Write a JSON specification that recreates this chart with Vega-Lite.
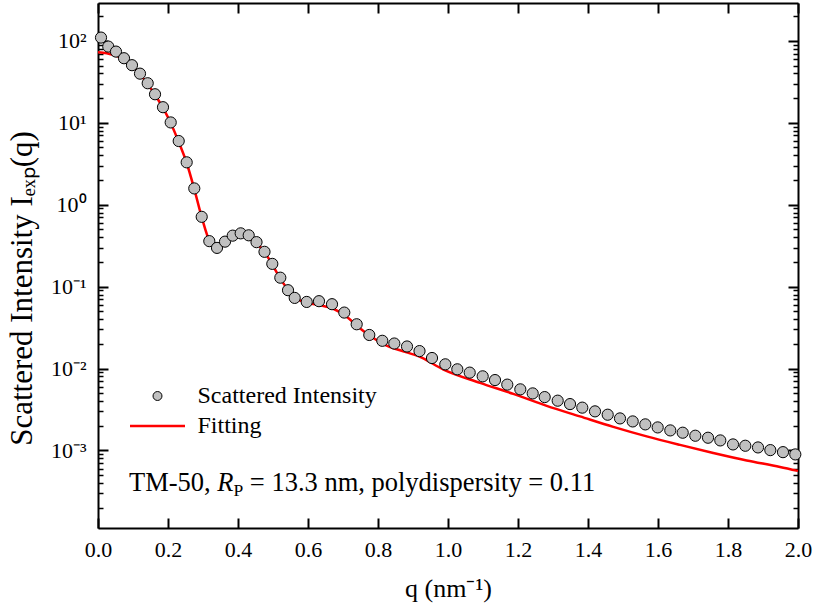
{
  "$schema": "https://vega.github.io/schema/vega-lite/v6.json",
  "width": 700,
  "height": 525,
  "autosize": {"type": "none"},
  "padding": {"left": 98, "top": 3, "right": 16, "bottom": 87},
  "background": "white",
  "config": {"view": {"stroke": null}, "font": "'Liberation Serif', 'Times New Roman', 'DejaVu Serif', serif", "axis": {"grid": false}},
  "datasets": {
    "points": [
      {"q": 0.0086, "I": 109.7, "series": "Scattered Intensity"},
      {"q": 0.0294, "I": 85.2, "series": "Scattered Intensity"},
      {"q": 0.0514, "I": 74.0, "series": "Scattered Intensity"},
      {"q": 0.0743, "I": 61.4, "series": "Scattered Intensity"},
      {"q": 0.0971, "I": 50.5, "series": "Scattered Intensity"},
      {"q": 0.12, "I": 39.8, "series": "Scattered Intensity"},
      {"q": 0.142, "I": 30.4, "series": "Scattered Intensity"},
      {"q": 0.1629, "I": 22.3, "series": "Scattered Intensity"},
      {"q": 0.1857, "I": 15.5, "series": "Scattered Intensity"},
      {"q": 0.2077, "I": 10.1, "series": "Scattered Intensity"},
      {"q": 0.2306, "I": 5.99, "series": "Scattered Intensity"},
      {"q": 0.2534, "I": 3.29, "series": "Scattered Intensity"},
      {"q": 0.2751, "I": 1.58, "series": "Scattered Intensity"},
      {"q": 0.2963, "I": 0.711, "series": "Scattered Intensity"},
      {"q": 0.318, "I": 0.359, "series": "Scattered Intensity"},
      {"q": 0.34, "I": 0.297, "series": "Scattered Intensity"},
      {"q": 0.3629, "I": 0.354, "series": "Scattered Intensity"},
      {"q": 0.3849, "I": 0.419, "series": "Scattered Intensity"},
      {"q": 0.4077, "I": 0.447, "series": "Scattered Intensity"},
      {"q": 0.4306, "I": 0.423, "series": "Scattered Intensity"},
      {"q": 0.4529, "I": 0.349, "series": "Scattered Intensity"},
      {"q": 0.4757, "I": 0.266, "series": "Scattered Intensity"},
      {"q": 0.498, "I": 0.1895, "series": "Scattered Intensity"},
      {"q": 0.5209, "I": 0.1285, "series": "Scattered Intensity"},
      {"q": 0.5429, "I": 0.0904, "series": "Scattered Intensity"},
      {"q": 0.562, "I": 0.0728, "series": "Scattered Intensity"},
      {"q": 0.5963, "I": 0.065, "series": "Scattered Intensity"},
      {"q": 0.6314, "I": 0.0664, "series": "Scattered Intensity"},
      {"q": 0.6686, "I": 0.061, "series": "Scattered Intensity"},
      {"q": 0.7037, "I": 0.0482, "series": "Scattered Intensity"},
      {"q": 0.7391, "I": 0.0347, "series": "Scattered Intensity"},
      {"q": 0.7751, "I": 0.02568, "series": "Scattered Intensity"},
      {"q": 0.8123, "I": 0.0218, "series": "Scattered Intensity"},
      {"q": 0.8466, "I": 0.0202, "series": "Scattered Intensity"},
      {"q": 0.8829, "I": 0.01858, "series": "Scattered Intensity"},
      {"q": 0.9186, "I": 0.01633, "series": "Scattered Intensity"},
      {"q": 0.9543, "I": 0.01344, "series": "Scattered Intensity"},
      {"q": 0.9923, "I": 0.01125, "series": "Scattered Intensity"},
      {"q": 1.0266, "I": 0.00978, "series": "Scattered Intensity"},
      {"q": 1.062, "I": 0.00891, "series": "Scattered Intensity"},
      {"q": 1.0991, "I": 0.00803, "series": "Scattered Intensity"},
      {"q": 1.1343, "I": 0.00723, "series": "Scattered Intensity"},
      {"q": 1.1694, "I": 0.00636, "series": "Scattered Intensity"},
      {"q": 1.2066, "I": 0.00557, "series": "Scattered Intensity"},
      {"q": 1.242, "I": 0.00497, "series": "Scattered Intensity"},
      {"q": 1.2763, "I": 0.00448, "series": "Scattered Intensity"},
      {"q": 1.3134, "I": 0.00405, "series": "Scattered Intensity"},
      {"q": 1.3486, "I": 0.00368, "series": "Scattered Intensity"},
      {"q": 1.3837, "I": 0.00333, "series": "Scattered Intensity"},
      {"q": 1.42, "I": 0.0030, "series": "Scattered Intensity"},
      {"q": 1.4563, "I": 0.00273, "series": "Scattered Intensity"},
      {"q": 1.4914, "I": 0.00246, "series": "Scattered Intensity"},
      {"q": 1.5277, "I": 0.00226, "series": "Scattered Intensity"},
      {"q": 1.5637, "I": 0.00208, "series": "Scattered Intensity"},
      {"q": 1.5991, "I": 0.00191, "series": "Scattered Intensity"},
      {"q": 1.6351, "I": 0.001756, "series": "Scattered Intensity"},
      {"q": 1.6706, "I": 0.001646, "series": "Scattered Intensity"},
      {"q": 1.7066, "I": 0.001512, "series": "Scattered Intensity"},
      {"q": 1.7429, "I": 0.001429, "series": "Scattered Intensity"},
      {"q": 1.778, "I": 0.001325, "series": "Scattered Intensity"},
      {"q": 1.8143, "I": 0.001184, "series": "Scattered Intensity"},
      {"q": 1.8494, "I": 0.001141, "series": "Scattered Intensity"},
      {"q": 1.8857, "I": 0.001088, "series": "Scattered Intensity"},
      {"q": 1.9209, "I": 0.001009, "series": "Scattered Intensity"},
      {"q": 1.9571, "I": 0.000953, "series": "Scattered Intensity"},
      {"q": 1.9923, "I": 0.000894, "series": "Scattered Intensity"}
    ],
    "fit": [
      {"q": 0, "I": 72.7, "series": "Fitting"},
      {"q": 0.0249, "I": 70.7, "series": "Fitting"},
      {"q": 0.0486, "I": 66.5, "series": "Fitting"},
      {"q": 0.0743, "I": 60.2, "series": "Fitting"},
      {"q": 0.0971, "I": 49.5, "series": "Fitting"},
      {"q": 0.12, "I": 38.9, "series": "Fitting"},
      {"q": 0.142, "I": 29.8, "series": "Fitting"},
      {"q": 0.1629, "I": 21.9, "series": "Fitting"},
      {"q": 0.1857, "I": 15.2, "series": "Fitting"},
      {"q": 0.2077, "I": 9.94, "series": "Fitting"},
      {"q": 0.2306, "I": 5.83, "series": "Fitting"},
      {"q": 0.2534, "I": 3.23, "series": "Fitting"},
      {"q": 0.2751, "I": 1.55, "series": "Fitting"},
      {"q": 0.2963, "I": 0.706, "series": "Fitting"},
      {"q": 0.32, "I": 0.352, "series": "Fitting"},
      {"q": 0.3391, "I": 0.303, "series": "Fitting"},
      {"q": 0.3486, "I": 0.299, "series": "Fitting"},
      {"q": 0.3629, "I": 0.339, "series": "Fitting"},
      {"q": 0.3829, "I": 0.396, "series": "Fitting"},
      {"q": 0.4029, "I": 0.419, "series": "Fitting"},
      {"q": 0.4229, "I": 0.407, "series": "Fitting"},
      {"q": 0.4534, "I": 0.336, "series": "Fitting"},
      {"q": 0.4751, "I": 0.2656, "series": "Fitting"},
      {"q": 0.4971, "I": 0.1895, "series": "Fitting"},
      {"q": 0.52, "I": 0.1267, "series": "Fitting"},
      {"q": 0.5429, "I": 0.0917, "series": "Fitting"},
      {"q": 0.5686, "I": 0.0711, "series": "Fitting"},
      {"q": 0.5963, "I": 0.0636, "series": "Fitting"},
      {"q": 0.6343, "I": 0.0592, "series": "Fitting"},
      {"q": 0.6723, "I": 0.0537, "series": "Fitting"},
      {"q": 0.7106, "I": 0.0429, "series": "Fitting"},
      {"q": 0.7429, "I": 0.03235, "series": "Fitting"},
      {"q": 0.7771, "I": 0.0251, "series": "Fitting"},
      {"q": 0.8229, "I": 0.0192, "series": "Fitting"},
      {"q": 0.8629, "I": 0.0167, "series": "Fitting"},
      {"q": 0.92, "I": 0.0139, "series": "Fitting"},
      {"q": 0.9857, "I": 0.00978, "series": "Fitting"},
      {"q": 1.0914, "I": 0.00669, "series": "Fitting"},
      {"q": 1.1866, "I": 0.0049, "series": "Fitting"},
      {"q": 1.282, "I": 0.0035, "series": "Fitting"},
      {"q": 1.3771, "I": 0.002603, "series": "Fitting"},
      {"q": 1.4723, "I": 0.001938, "series": "Fitting"},
      {"q": 1.5677, "I": 0.001483, "series": "Fitting"},
      {"q": 1.6629, "I": 0.001168, "series": "Fitting"},
      {"q": 1.758, "I": 0.000932, "series": "Fitting"},
      {"q": 1.8534, "I": 0.000755, "series": "Fitting"},
      {"q": 1.9486, "I": 0.000629, "series": "Fitting"},
      {"q": 2.0, "I": 0.000562, "series": "Fitting"}
    ],
    "note": [{"q": 0.0886, "I": 0.000324}]
  },
  "resolve": {"axis": {"x": "independent", "y": "independent"}},
  "layer": [
    {
      "data": {"name": "fit"},
      "mark": {"type": "line", "strokeWidth": 2.5, "interpolate": "monotone"},
      "encoding": {
        "x": {"field": "q", "type": "quantitative",
          "scale": {"type": "linear", "domain": [0, 2], "nice": false, "zero": false},
          "axis": {"orient": "bottom", "values": [0, 0.2, 0.4, 0.6, 0.8, 1.0, 1.2, 1.4, 1.6, 1.8, 2.0], "format": ".1f",
            "tickSize": -10, "tickWidth": 2, "tickColor": "black", "domainWidth": 2, "domainColor": "black",
            "labelFont": "'Liberation Serif', 'Times New Roman', serif", "labelFontSize": 22, "labelColor": "black", "labelPadding": 21, "labelFlush": false,
            "title": "q (nm⁻¹)", "titleFont": "'Liberation Serif', 'Times New Roman', serif", "titleFontSize": 26, "titleFontWeight": "normal", "titleColor": "black", "titlePadding": 15}},
        "y": {"field": "I", "type": "quantitative",
          "scale": {"type": "log", "domain": [0.000113, 290], "nice": false},
          "axis": {"orient": "left", "values": [0.001, 0.01, 0.1, 1, 10, 100],
            "labelExpr": "datum.value >= 50 ? '10²' : datum.value >= 5 ? '10¹' : datum.value >= 0.5 ? '10⁰' : datum.value >= 0.05 ? '10⁻¹' : datum.value >= 0.005 ? '10⁻²' : '10⁻³'",
            "tickSize": -10, "tickWidth": 2, "tickColor": "black", "domainWidth": 2, "domainColor": "black",
            "labelFont": "'Liberation Serif', 'Times New Roman', serif", "labelFontSize": 22, "labelColor": "black", "labelPadding": 22, "labelFlush": false,
            "title": "Scattered Intensity Iₑₓₚ(q)", "titleFont": "'Liberation Serif', 'Times New Roman', serif", "titleFontSize": 31, "titleFontWeight": "normal", "titleColor": "black", "titlePadding": 12, "titleY": 285}},
        "stroke": {"field": "series", "type": "nominal",
          "scale": {"domain": ["Scattered Intensity", "Fitting"], "range": ["#000000", "#ff0000"]},
          "legend": {"orient": "none", "legendX": 47.5, "legendY": 381, "title": null, "padding": 0,
            "labelFont": "'Liberation Serif', 'Times New Roman', serif", "labelFontSize": 24, "labelColor": "black", "labelLimit": 400,
            "symbolSize": 784, "labelOffset": 28, "rowPadding": 6, "direction": "vertical",
            "encode": {"symbols": {"update": {
              "shape": {"signal": "datum.value === 'Fitting' ? 'stroke' : 'circle'"},
              "size": {"signal": "datum.value === 'Fitting' ? 3025 : 80"},
              "fill": {"signal": "datum.value === 'Fitting' ? 'transparent' : '#c0c0c0'"},
              "stroke": {"signal": "datum.value === 'Fitting' ? '#ff0000' : '#000000'"},
              "strokeWidth": {"signal": "datum.value === 'Fitting' ? 2.5 : 1"},
              "strokeOpacity": {"value": 1},
              "fillOpacity": {"value": 1},
              "opacity": {"value": 1}
            }}}}}
      }
    },
    {
      "data": {"name": "points"},
      "mark": {"type": "point", "filled": true, "fill": "#c0c0c0", "size": 125, "strokeWidth": 1, "opacity": 1, "shape": "circle"},
      "encoding": {
        "x": {"field": "q", "type": "quantitative",
          "scale": {"type": "linear", "domain": [0, 2], "nice": false, "zero": false},
          "axis": {"orient": "top", "values": [0, 0.2, 0.4, 0.6, 0.8, 1.0, 1.2, 1.4, 1.6, 1.8, 2.0], "labels": false, "title": null,
            "tickSize": -10, "tickWidth": 2, "tickColor": "black", "domainWidth": 2, "domainColor": "black"}},
        "y": {"field": "I", "type": "quantitative",
          "scale": {"type": "log", "domain": [0.000113, 290], "nice": false},
          "axis": {"orient": "right", "values": [0.001, 0.01, 0.1, 1, 10, 100], "labels": false, "title": null,
            "tickSize": -10, "tickWidth": 2, "tickColor": "black", "domainWidth": 2, "domainColor": "black"}},
        "stroke": {"field": "series", "type": "nominal",
          "scale": {"domain": ["Scattered Intensity", "Fitting"], "range": ["#000000", "#ff0000"]}}
      }
    },
    {
      "data": {"name": "note"},
      "mark": {"type": "text", "text": "TM-50, ", "font": "'Liberation Serif', 'Times New Roman', serif", "fontSize": 26.5, "align": "left", "baseline": "alphabetic", "color": "black"},
      "encoding": {
        "x": {"field": "q", "type": "quantitative", "scale": {"type": "linear", "domain": [0, 2], "nice": false, "zero": false}, "axis": null},
        "y": {"field": "I", "type": "quantitative", "scale": {"type": "log", "domain": [0.000113, 290], "nice": false},
          "axis": {"orient": "left", "values": [0.0002, 0.0003, 0.0004, 0.0005, 0.0006, 0.0007, 0.0008, 0.0009, 0.002, 0.003, 0.004, 0.005, 0.006, 0.007, 0.008, 0.009, 0.02, 0.03, 0.04, 0.05, 0.06, 0.07, 0.08, 0.09, 0.2, 0.3, 0.4, 0.5, 0.6, 0.7, 0.8, 0.9, 2, 3, 4, 5, 6, 7, 8, 9, 20, 30, 40, 50, 60, 70, 80, 90, 200],
            "labels": false, "title": null, "domain": false, "tickSize": -5, "tickWidth": 1.5, "tickColor": "black"}}
      }
    },
    {
      "data": {"name": "note"},
      "mark": {"type": "text", "text": "R", "font": "'Liberation Serif', 'Times New Roman', serif", "fontStyle": "italic", "fontSize": 26.5, "align": "left", "baseline": "alphabetic", "color": "black", "dx": 88.3},
      "encoding": {
        "x": {"field": "q", "type": "quantitative", "scale": {"type": "linear", "domain": [0, 2], "nice": false, "zero": false}, "axis": null},
        "y": {"field": "I", "type": "quantitative", "scale": {"type": "log", "domain": [0.000113, 290], "nice": false},
          "axis": {"orient": "right", "values": [0.0002, 0.0003, 0.0004, 0.0005, 0.0006, 0.0007, 0.0008, 0.0009, 0.002, 0.003, 0.004, 0.005, 0.006, 0.007, 0.008, 0.009, 0.02, 0.03, 0.04, 0.05, 0.06, 0.07, 0.08, 0.09, 0.2, 0.3, 0.4, 0.5, 0.6, 0.7, 0.8, 0.9, 2, 3, 4, 5, 6, 7, 8, 9, 20, 30, 40, 50, 60, 70, 80, 90, 200],
            "labels": false, "title": null, "domain": false, "tickSize": -5, "tickWidth": 1.5, "tickColor": "black"}}
      }
    },
    {
      "data": {"name": "note"},
      "mark": {"type": "text", "text": "P", "font": "'Liberation Serif', 'Times New Roman', serif", "fontSize": 17.5, "align": "left", "baseline": "alphabetic", "color": "black", "dx": 104.5, "dy": 5},
      "encoding": {
        "x": {"field": "q", "type": "quantitative", "scale": {"type": "linear", "domain": [0, 2], "nice": false, "zero": false}, "axis": null},
        "y": {"field": "I", "type": "quantitative", "scale": {"type": "log", "domain": [0.000113, 290], "nice": false}, "axis": null}
      }
    },
    {
      "data": {"name": "note"},
      "mark": {"type": "text", "text": "= 13.3 nm, polydispersity = 0.11", "font": "'Liberation Serif', 'Times New Roman', serif", "fontSize": 26.5, "align": "left", "baseline": "alphabetic", "color": "black", "dx": 120.8},
      "encoding": {
        "x": {"field": "q", "type": "quantitative", "scale": {"type": "linear", "domain": [0, 2], "nice": false, "zero": false}, "axis": null},
        "y": {"field": "I", "type": "quantitative", "scale": {"type": "log", "domain": [0.000113, 290], "nice": false}, "axis": null}
      }
    }
  ]
}
